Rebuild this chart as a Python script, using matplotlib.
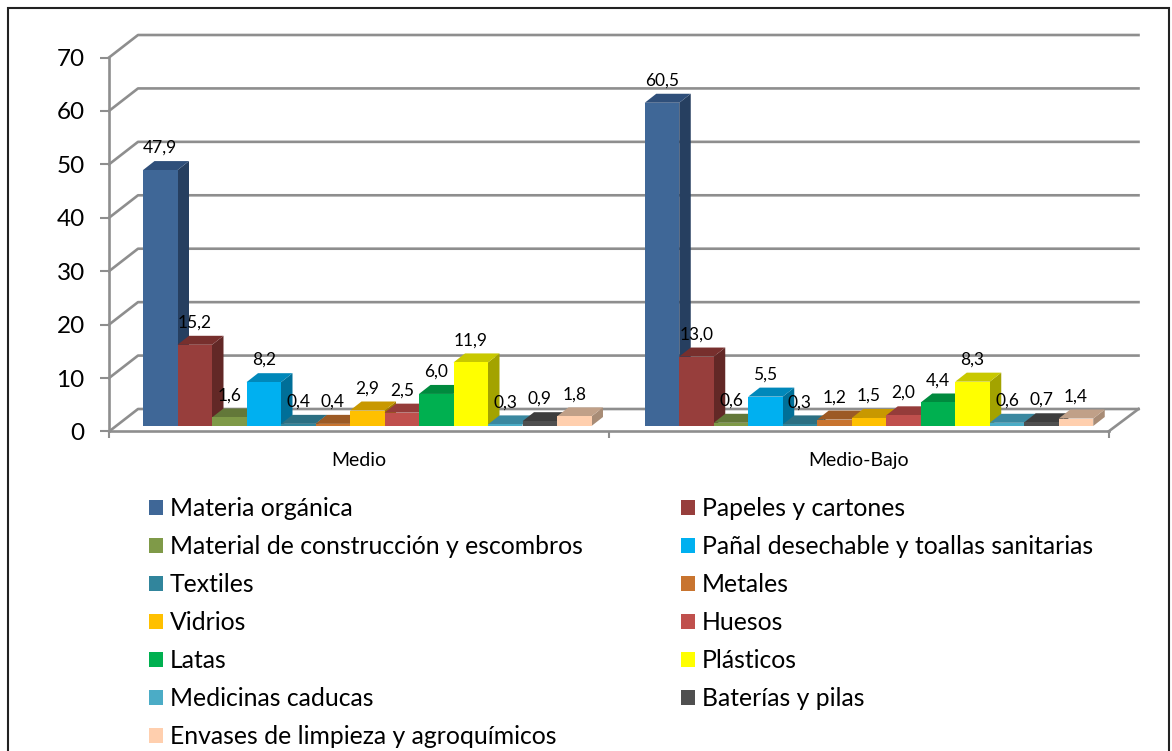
import matplotlib
matplotlib.use("Agg")
import matplotlib.pyplot as plt
from matplotlib.patches import Polygon, Rectangle, Patch
from matplotlib.ticker import FixedLocator

plt.rcParams['font.family'] = ['Lato', 'DejaVu Sans']

groups = ["Medio", "Medio-Bajo"]
names = ["Materia orgánica", "Papeles y cartones", "Material de construcción y escombros",
         "Pañal desechable y toallas sanitarias", "Textiles", "Metales", "Vidrios", "Huesos",
         "Latas", "Plásticos", "Medicinas caducas", "Baterías y pilas",
         "Envases de limpieza y agroquímicos"]
medio = [47.9, 15.2, 1.6, 8.2, 0.4, 0.4, 2.9, 2.5, 6.0, 11.9, 0.3, 0.9, 1.8]
medio_bajo = [60.5, 13.0, 0.6, 5.5, 0.3, 1.2, 1.5, 2.0, 4.4, 8.3, 0.6, 0.7, 1.4]
front = ["#3F6797", "#973E3C", "#7F9A48", "#00B0F0", "#31859C", "#C8742F", "#FFC000",
         "#C0504D", "#00B050", "#FFFF00", "#4BACC6", "#4F4F4F", "#FFCFAE"]
top = ["#2F4F7A", "#772F2D", "#637839", "#0088BA", "#2B6F82", "#9C5A25", "#C89800",
       "#953C3A", "#008A3E", "#C8C800", "#3A88A0", "#3D3D3D", "#C0A088"]
side = ["#263F60", "#622826", "#4F602E", "#006F98", "#225A6A", "#7F491E", "#A37C00",
        "#7A312F", "#007033", "#A3A300", "#2F6F82", "#313131", "#A88C76"]
yticks = [0, 10, 20, 30, 40, 50, 60, 70]

W, H = 1172, 751
fig = plt.figure(figsize=(W / 100, H / 100), dpi=100)
ax = fig.add_axes([109 / W, 1 - 431.5 / H, 999.5 / W, 374 / H])
ax.set_xlim(0, 2)
ax.set_ylim(0, 70)

# pixel sizes expressed in data units
px = 2 / 999.5
py = 70 / 374
grey = "#8E8E8E"

# back wall and floor
for v in yticks:
    ax.plot([0, 29 * px, 2 + 30 * px], [v, v + 22.5 * py, v + 22.5 * py],
            color=grey, lw=1.9, clip_on=False, zorder=1)
ax.plot([2, 2 + 30 * px], [0, 22.5 * py], color=grey, lw=1.9, clip_on=False, zorder=1)

# bars with fake depth
bar_w = 34.5 * px
dx, dy = 11.5 * px, 9 * py
base = 5.5 * py
for g, vals in enumerate([medio, medio_bajo]):
    start = g + (34 + 2 * g) * px
    for i, v in enumerate(vals):
        x0 = start + i * bar_w
        x1 = x0 + bar_w
        y0 = base
        y1 = base + v
        ax.add_patch(Polygon([(x1, y0), (x1 + dx, y0 + dy), (x1 + dx, y1 + dy), (x1, y1)],
                             fc=side[i], ec="none", zorder=3 + i, clip_on=False))
        ax.add_patch(Polygon([(x0, y1), (x1, y1), (x1 + dx, y1 + dy), (x0 + dx, y1 + dy)],
                             fc=top[i], ec="none", zorder=3 + i, clip_on=False))
        ax.add_patch(Rectangle((x0, y0), bar_w, v, fc=front[i], ec="none",
                               zorder=3 + i, clip_on=False))
        ax.annotate(f"{v:.1f}".replace(".", ","), (x0 + bar_w / 2, y1), xytext=(0, 16),
                    textcoords="offset points", ha="center", va="center",
                    fontsize=12.5, color="black", zorder=30, annotation_clip=False)

for s in ["top", "right"]:
    ax.spines[s].set_visible(False)
for s in ["left", "bottom"]:
    ax.spines[s].set_color(grey)
    ax.spines[s].set_linewidth(1.9)

ax.set_yticks(yticks)
ax.tick_params(axis="y", length=6.5, width=1.5, color=grey, labelsize=17.5, pad=11)
ax.set_xticks([0.5, 1.5])
ax.set_xticklabels(groups)
ax.tick_params(axis="x", which="major", length=0, labelsize=14, pad=14.5)
ax.xaxis.set_minor_locator(FixedLocator([0, 1, 2]))
ax.tick_params(axis="x", which="minor", length=5, width=1.5, color=grey)

handles = [Patch(fc=c, ec="none") for c in front]
order = list(range(0, 13, 2)) + list(range(1, 13, 2))
fig.legend([handles[i] for i in order], [names[i] for i in order], ncol=2,
           loc="upper left", bbox_to_anchor=(149 / W, 1 - 497 / H), frameon=False,
           fontsize=17.8, handlelength=0.57, handleheight=0.57, handletextpad=0.28,
           labelspacing=0.61, columnspacing=3.96, borderpad=0, borderaxespad=0)

# outer chart frame, runs off the bottom of the picture
fig.add_artist(Rectangle((8 / W, -0.05), 1161 / W, 1.05 - 8.5 / H, transform=fig.transFigure,
                         fill=False, ec="#222222", lw=1.5))

fig.savefig("out.png", dpi=100)
